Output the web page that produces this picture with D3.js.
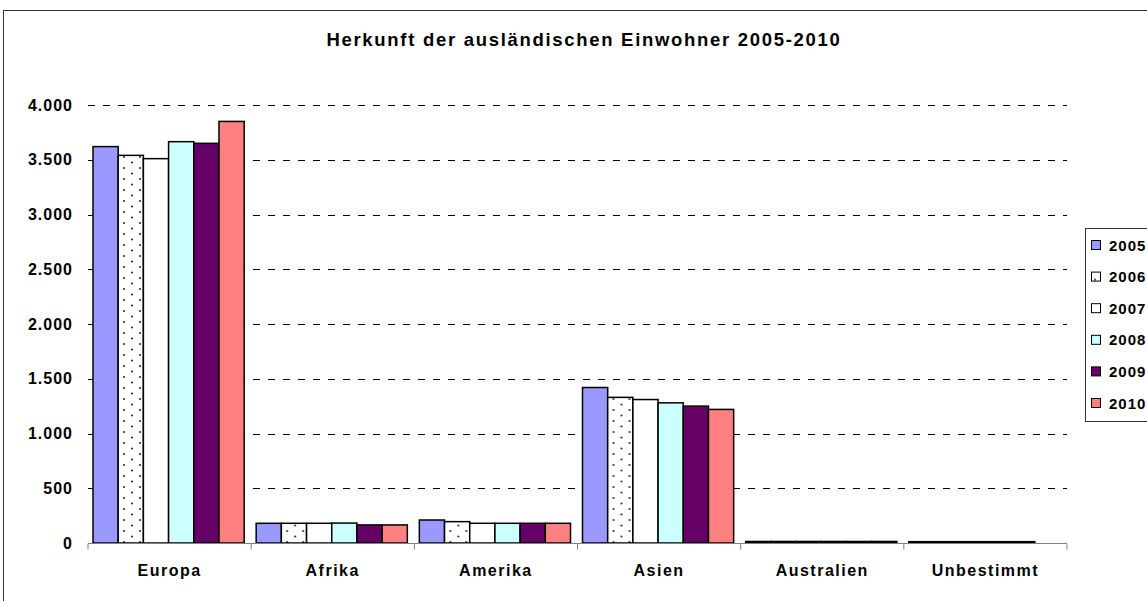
<!DOCTYPE html>
<html>
<head>
<meta charset="utf-8">
<script src="https://cdn.jsdelivr.net/npm/d3@7"></script>
<style>
  body { margin:0; background:#fff; overflow:hidden; }
  svg { display:block; font-family:"Liberation Sans", Arial, sans-serif; }
</style>
</head>
<body>
<svg id="chart" width="1147" height="601"></svg>
<script>
// data
var categories = ["Europa","Afrika","Amerika","Asien","Australien","Unbestimmt"];
var years = ["2005","2006","2007","2008","2009","2010"];
var v2005 = [3620, 180, 210, 1420, 14, 12];
var v2006 = [3540, 180, 195, 1330, 14, 12];
var v2007 = [3510, 180, 180, 1310, 14, 12];
var v2008 = [3665, 182, 180, 1280, 14, 12];
var v2009 = [3650, 165, 180, 1250, 14, 12];
var v2010 = [3850, 165, 180, 1220, 14, 0];
var yTicks = [0,500,1000,1500,2000,2500,3000,3500,4000];
var colors = ["#9999FF","url(#dots)","#FFFFFF","#CCFFFF","#660066","#FF8080"];

var series = [v2005,v2006,v2007,v2008,v2009,v2010];
var rows = categories.map(function(c,i){
  var r = {cat:c};
  years.forEach(function(y,j){ r[y] = series[j][i]; });
  return r;
});

var svg = d3.select("#chart");
var pLeft = 88, pRight = 1067, pTop = 105, pBottom = 543;

// dotted fill for 2006
var defs = svg.append("defs");
var pat = defs.append("pattern").attr("id","dots")
  .attr("patternUnits","userSpaceOnUse").attr("width",16).attr("height",11);
pat.append("rect").attr("width",16).attr("height",11).attr("fill","#fff");
pat.append("circle").attr("cx",4).attr("cy",3).attr("r",1.1).attr("fill","#333");
pat.append("circle").attr("cx",12).attr("cy",8.5).attr("r",1.1).attr("fill","#333");

// outer frame
svg.append("rect").attr("x",3.5).attr("y",10.5).attr("width",1300).attr("height",700)
  .attr("fill","none").attr("stroke","#333").attr("stroke-width",1);

svg.append("text").attr("x",584).attr("y",46).attr("text-anchor","middle")
  .attr("font-size",18.5).attr("font-weight","bold").attr("letter-spacing",1.7)
  .text("Herkunft der ausländischen Einwohner 2005-2010");

var y = d3.scaleLinear().domain([0,4000]).range([pBottom,pTop]);
var x0 = d3.scaleBand().domain(categories).range([pLeft,pRight]).padding(0);
var x1 = d3.scaleBand().domain(years).range([5, x0.bandwidth()-7]).padding(0);

// gridlines
svg.append("g").selectAll("line").data(yTicks.filter(function(d){return d>0;}))
  .join("line")
  .attr("x1",pLeft).attr("x2",pRight)
  .attr("y1",function(d){return Math.round(y(d))+0.5;})
  .attr("y2",function(d){return Math.round(y(d))+0.5;})
  .attr("stroke","#000").attr("stroke-dasharray","7,8");

// bars
var g = svg.append("g");
g.selectAll("g").data(rows).join("g")
  .attr("transform",function(d){return "translate("+x0(d.cat)+",0)";})
  .selectAll("rect")
  .data(function(d){ return years.map(function(yr,j){return {yr:yr,j:j,v:d[yr]};}).filter(function(e){return e.v>0;}); })
  .join("rect")
  .attr("x",function(d){return x1(d.yr);})
  .attr("width",x1.bandwidth())
  .attr("y",function(d){return y(d.v);})
  .attr("height",function(d){return pBottom - y(d.v);})
  .attr("fill",function(d){return colors[d.j];})
  .attr("stroke","#000").attr("stroke-width",1.5);

// y axis labels
var yAxis = d3.axisLeft(y).tickValues(yTicks).tickSize(0).tickPadding(15)
  .tickFormat(function(d){ return d3.format(",")(d).replace(/,/g,"."); });
var ya = svg.append("g").attr("transform","translate("+pLeft+",0)").call(yAxis);
ya.select(".domain").remove();
ya.selectAll("text").attr("font-size",16).attr("font-weight","bold").attr("letter-spacing",1)
  .attr("font-family","Liberation Sans, Arial, sans-serif").attr("fill","#000");

// x axis
var xa = svg.append("g").attr("transform","translate(0,"+(pBottom+0.5)+")");
xa.append("line").attr("x1",pLeft).attr("x2",pRight).attr("stroke","#808080");
xa.selectAll("line.t").data(categories.concat(["end"])).join("line").attr("class","t")
  .attr("x1",function(d,i){return pLeft + i*x0.bandwidth();})
  .attr("x2",function(d,i){return pLeft + i*x0.bandwidth();})
  .attr("y1",0).attr("y2",6).attr("stroke","#808080");
xa.selectAll("text").data(categories).join("text")
  .attr("x",function(d){return x0(d)+x0.bandwidth()/2;})
  .attr("y",32).attr("text-anchor","middle")
  .attr("font-size",16).attr("font-weight","bold").attr("letter-spacing",1.5)
  .text(function(d){return d;});

// legend
var lg = svg.append("g");
lg.append("rect").attr("x",1085.5).attr("y",228.5).attr("width",120).attr("height",193)
  .attr("fill","#fff").attr("stroke","#333");
var items = lg.selectAll("g").data(years).join("g")
  .attr("transform",function(d,i){return "translate(1091,"+(245+i*31.6)+")";});
items.append("rect").attr("x",0.5).attr("y",-4.5).attr("width",9).attr("height",9)
  .attr("fill",function(d,i){return colors[i];}).attr("stroke","#000");
items.append("text").attr("x",18).attr("y",5.5).attr("font-size",15).attr("font-weight","bold")
  .attr("letter-spacing",1)
  .text(function(d){return d;});
</script>
</body>
</html>
